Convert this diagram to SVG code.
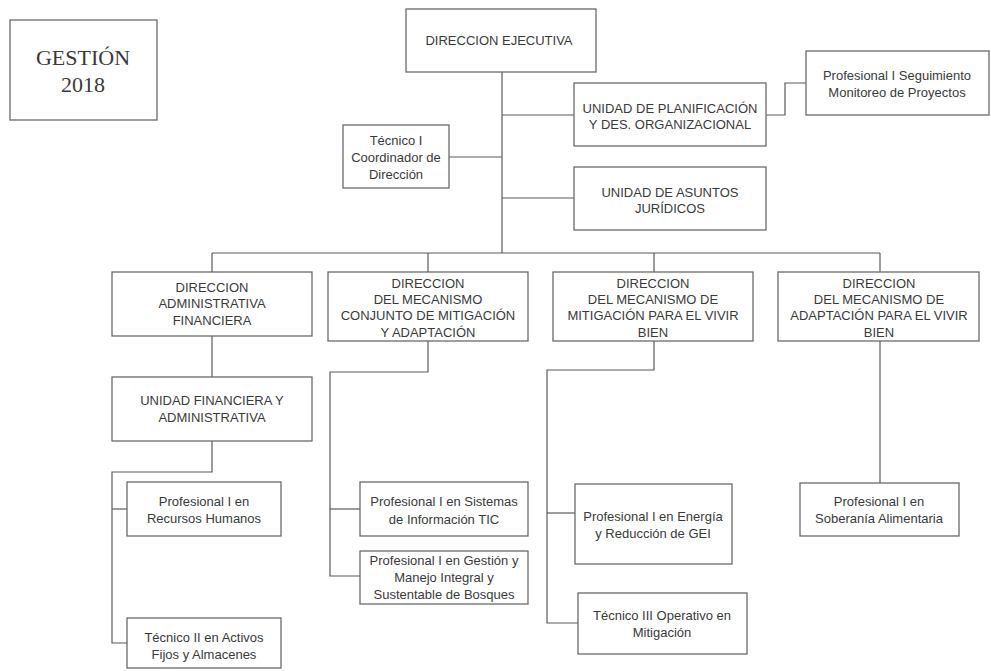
<svg xmlns="http://www.w3.org/2000/svg" width="991" height="671" viewBox="0 0 991 671">
<style>
.box{fill:#fff;stroke:#6a6a6a;stroke-width:1.3}
.t{font-family:"Liberation Sans",Arial,sans-serif;font-size:13px;fill:#3a3a3a;text-anchor:middle}
.g{font-family:"Liberation Serif","Times New Roman",serif;font-size:22px;fill:#3a3a3a;text-anchor:middle}
.c{fill:none;stroke:#5a5a5a;stroke-width:1.2}
</style>
<rect width="991" height="671" fill="#fff"/>
<g id="connectors">
<polyline class="c" points="502,72 502,253"/>
<polyline class="c" points="449,157 502,157"/>
<polyline class="c" points="502,115 574,115"/>
<polyline class="c" points="502,198 574,198"/>
<polyline class="c" points="766,115 785,115 785,83 806,83"/>
<polyline class="c" points="212,253 880,253"/>
<polyline class="c" points="212,253 212,272"/>
<polyline class="c" points="428,253 428,272"/>
<polyline class="c" points="654,253 654,272"/>
<polyline class="c" points="880,253 880,272"/>
<polyline class="c" points="212,336 212,377"/>
<polyline class="c" points="212,441 212,472 112,472 112,643 127,643"/>
<polyline class="c" points="112,509 127,509"/>
<polyline class="c" points="428,341 428,372 330,372 330,576 360,576"/>
<polyline class="c" points="330,509 360,509"/>
<polyline class="c" points="654,341 654,370 547,370 547,623 578,623"/>
<polyline class="c" points="547,513 575,513"/>
<polyline class="c" points="880,341 880,483"/>
</g>
<g id="gestion">
<rect class="box" x="10" y="20" width="147" height="100"/>
<text class="g" x="83" y="65">GESTIÓN</text>
<text class="g" x="83" y="92">2018</text>
</g>
<g id="direccion-ejecutiva">
<rect class="box" x="406" y="9" width="190" height="63"/>
<text class="t" x="499" y="45">DIRECCION EJECUTIVA</text>
</g>
<g id="tecnico-coordinador">
<rect class="box" x="343" y="125" width="106" height="63"/>
<text class="t" x="396" y="145">Técnico I</text>
<text class="t" x="396" y="162">Coordinador de</text>
<text class="t" x="396" y="179">Dirección</text>
</g>
<g id="unidad-planificacion">
<rect class="box" x="574" y="83" width="192" height="63"/>
<text class="t" x="670" y="113">UNIDAD DE PLANIFICACIÓN</text>
<text class="t" x="670" y="129">Y DES. ORGANIZACIONAL</text>
</g>
<g id="profesional-seguimiento">
<rect class="box" x="806" y="51" width="183" height="64"/>
<text class="t" x="897" y="80">Profesional I Seguimiento</text>
<text class="t" x="897" y="97">Monitoreo de Proyectos</text>
</g>
<g id="unidad-juridicos">
<rect class="box" x="574" y="167" width="192" height="63"/>
<text class="t" x="670" y="197">UNIDAD DE ASUNTOS</text>
<text class="t" x="670" y="213">JURÍDICOS</text>
</g>
<g id="direccion-administrativa">
<rect class="box" x="112" y="272" width="200" height="64"/>
<text class="t" x="212" y="292">DIRECCION</text>
<text class="t" x="212" y="308">ADMINISTRATIVA</text>
<text class="t" x="212" y="325">FINANCIERA</text>
</g>
<g id="direccion-conjunto">
<rect class="box" x="328" y="272" width="200" height="69"/>
<text class="t" x="428" y="288">DIRECCION</text>
<text class="t" x="428" y="304">DEL MECANISMO</text>
<text class="t" x="428" y="320">CONJUNTO DE MITIGACIÓN</text>
<text class="t" x="428" y="337">Y ADAPTACIÓN</text>
</g>
<g id="direccion-mitigacion">
<rect class="box" x="553" y="272" width="200" height="69"/>
<text class="t" x="653" y="288">DIRECCION</text>
<text class="t" x="653" y="304">DEL MECANISMO DE</text>
<text class="t" x="653" y="320">MITIGACIÓN PARA EL VIVIR</text>
<text class="t" x="653" y="337">BIEN</text>
</g>
<g id="direccion-adaptacion">
<rect class="box" x="778" y="272" width="201" height="69"/>
<text class="t" x="879" y="288">DIRECCION</text>
<text class="t" x="879" y="304">DEL MECANISMO DE</text>
<text class="t" x="879" y="320">ADAPTACIÓN PARA EL VIVIR</text>
<text class="t" x="879" y="337">BIEN</text>
</g>
<g id="unidad-financiera">
<rect class="box" x="112" y="377" width="200" height="64"/>
<text class="t" x="212" y="405">UNIDAD FINANCIERA Y</text>
<text class="t" x="212" y="422">ADMINISTRATIVA</text>
</g>
<g id="recursos-humanos">
<rect class="box" x="127" y="482" width="154" height="54"/>
<text class="t" x="204" y="506">Profesional I en</text>
<text class="t" x="204" y="523">Recursos Humanos</text>
</g>
<g id="activos-fijos">
<rect class="box" x="127" y="618" width="154" height="50"/>
<text class="t" x="204" y="642">Técnico II en Activos</text>
<text class="t" x="204" y="659">Fijos y Almacenes</text>
</g>
<g id="sistemas-tic">
<rect class="box" x="360" y="482" width="168" height="54"/>
<text class="t" x="444" y="506">Profesional I en Sistemas</text>
<text class="t" x="444" y="524">de Información TIC</text>
</g>
<g id="gestion-bosques">
<rect class="box" x="360" y="551" width="168" height="53"/>
<text class="t" x="444" y="565">Profesional I en Gestión y</text>
<text class="t" x="444" y="582">Manejo Integral y</text>
<text class="t" x="444" y="599">Sustentable de Bosques</text>
</g>
<g id="energia-gei">
<rect class="box" x="575" y="484" width="157" height="80"/>
<text class="t" x="653" y="521">Profesional I en Energía</text>
<text class="t" x="653" y="538">y Reducción de GEI</text>
</g>
<g id="tecnico-mitigacion">
<rect class="box" x="578" y="593" width="169" height="61"/>
<text class="t" x="662" y="620">Técnico III Operativo en</text>
<text class="t" x="662" y="637">Mitigación</text>
</g>
<g id="soberania-alimentaria">
<rect class="box" x="800" y="483" width="159" height="53"/>
<text class="t" x="879" y="506">Profesional I en</text>
<text class="t" x="879" y="523">Soberanía Alimentaria</text>
</g>
</svg>
